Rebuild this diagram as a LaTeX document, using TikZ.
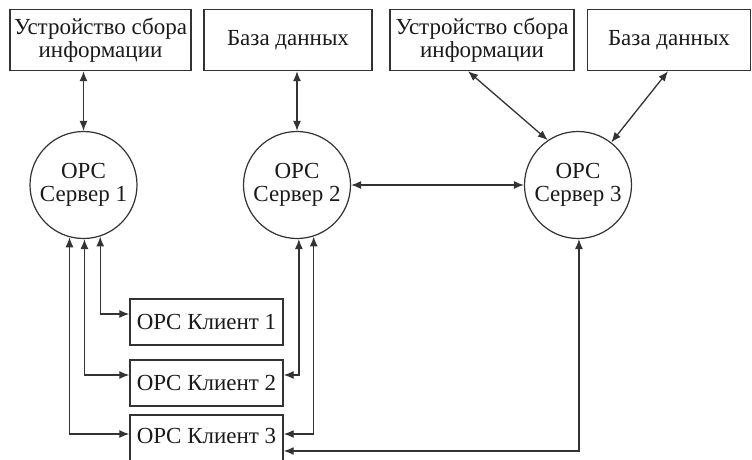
\documentclass[tikz,border=0pt]{standalone}
\usepackage{fontspec}
\setmainfont{Liberation Serif}
\usetikzlibrary{arrows.meta}
\definecolor{linec}{HTML}{333333}
\definecolor{txtc}{HTML}{1A1A1A}
\begin{document}
\begin{tikzpicture}[x=1pt,y=-1pt,
  every node/.style={font=\fontsize{23}{23}\selectfont, text=txtc},
  topbox/.style={draw=linec, line width=1.4pt, minimum height=61pt, align=center, inner sep=0pt},
  srv/.style={draw=linec, line width=1.2pt, circle, minimum size=107pt, inner sep=0pt, align=center},
  client/.style={draw=linec, line width=1.4pt, minimum width=153pt, text height=18pt, text depth=4pt, inner ysep=12pt, inner xsep=0pt, anchor=base},
  link/.style={draw=linec, line width=1.3pt, {Latex[length=10pt,width=8pt]}-{Latex[length=10pt,width=8pt]}},
]
\useasboundingbox (0,0) rectangle (752,460);
% top boxes
\node[topbox, minimum width=181pt] (b1) at (100.5,40) {Устройство сбора\\информации};
\node[topbox, minimum width=168pt] (b2) at (288,40) {База данных};
\node[topbox, minimum width=184pt] (b3) at (482,40) {Устройство сбора\\информации};
\node[topbox, minimum width=163pt] (b4) at (669,40) {База данных};
% servers
\node[srv] (s1) at (83.5,185) {OPC\\Сервер 1};
\node[srv] (s2) at (297,185) {OPC\\Сервер 2};
\node[srv] (s3) at (578,185) {OPC\\Сервер 3};
% clients
\node[client] (c1) at (206.5,329) {OPC Клиент 1};
\node[client] (c2) at (206.5,390) {OPC Клиент 2};
\node[client, text height=16pt, text depth=30pt] (c3) at (206.5,443) {OPC Клиент 3};
% links top
\draw[link] (b1.south -| s1.north) -- (s1.north);
\draw[link] (b2.south -| s2.north) -- (s2.north);
\draw[link] ([xshift=-14pt]b3.south) -- (s3.124);
\draw[link] ([xshift=-1pt]b4.south) -- (s3.52);
\draw[link] (s2.east) -- (s3.west);
% links to clients
\draw[link] (s1.-72) |- ([yshift=15pt]c1.base west);
\draw[link] (s1.-89) |- ([yshift=15pt]c2.base west);
\draw[link] (s1.-105) |- ([yshift=9pt]c3.base west);
\draw[link] (s2.-88) |- ([yshift=15pt]c2.base east);
\draw[link] (s2.-72) |- ([yshift=9pt]c3.base east);
\draw[link] (s3.-89) |- ([yshift=-8pt]c3.base east);
\end{tikzpicture}
\end{document}
